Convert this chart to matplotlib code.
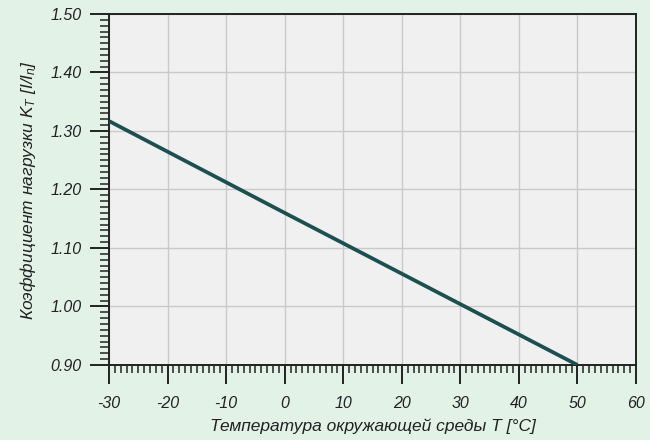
import matplotlib
matplotlib.use("Agg")
import matplotlib.pyplot as plt
from matplotlib.ticker import MultipleLocator, FormatStrFormatter

# data
temperature = [-30, 0, 30, 50]
load_factor = [1.317, 1.160, 1.004, 0.900]

x_ticks = [-30, -20, -10, 0, 10, 20, 30, 40, 50, 60]
y_ticks = [0.90, 1.00, 1.10, 1.20, 1.30, 1.40, 1.50]

plt.rcParams['font.family'] = ['Liberation Sans', 'DejaVu Sans']
plt.rcParams['font.style'] = 'italic'
plt.rcParams['axes.unicode_minus'] = False
plt.rcParams['mathtext.fontset'] = 'custom'
plt.rcParams['mathtext.rm'] = 'Liberation Sans:italic'
plt.rcParams['mathtext.it'] = 'Liberation Sans:italic'

fig = plt.figure(figsize=(6.5, 4.4), dpi=100, facecolor='#e3f2e7')
ax = fig.add_axes([0.1677, 0.1705, 0.8108, 0.7977])
ax.set_facecolor('#f0f0f0')

ax.plot(temperature, load_factor, color='#1c4f4f', linewidth=2.7,
        solid_capstyle='butt', zorder=3)

ax.set_xlim(-30, 60)
ax.set_ylim(0.90, 1.50)
ax.set_xticks(x_ticks)
ax.set_yticks(y_ticks)
ax.xaxis.set_minor_locator(MultipleLocator(1))
ax.yaxis.set_minor_locator(MultipleLocator(0.01))
ax.yaxis.set_major_formatter(FormatStrFormatter('%.2f'))

ax.grid(True, which='major', color='#c9c9c9', linewidth=1.0, zorder=0)
ax.set_axisbelow(True)

for s in ax.spines.values():
    s.set_color('#222222')
    s.set_linewidth(1.4)

ax.tick_params(which='major', direction='out', length=14, width=1.4,
               color='#222222', labelsize=11.5, labelcolor='#222222')
ax.tick_params(which='minor', direction='out', length=6, width=1.1,
               color='#222222')
ax.tick_params(axis='y', which='minor', length=6.8)
ax.tick_params(axis='x', which='major', pad=8)
ax.tick_params(axis='y', which='major', pad=6)

ax.set_xlabel('Температура окружающей среды T [°C]', fontsize=12.5,
              color='#222222', labelpad=6)
ax.set_ylabel(r'Коэффициент нагрузки $K_T$ [$I/I_n$]', fontsize=12.5,
              color='#222222', labelpad=9)

fig.savefig('out.png', dpi=100, facecolor=fig.get_facecolor())
